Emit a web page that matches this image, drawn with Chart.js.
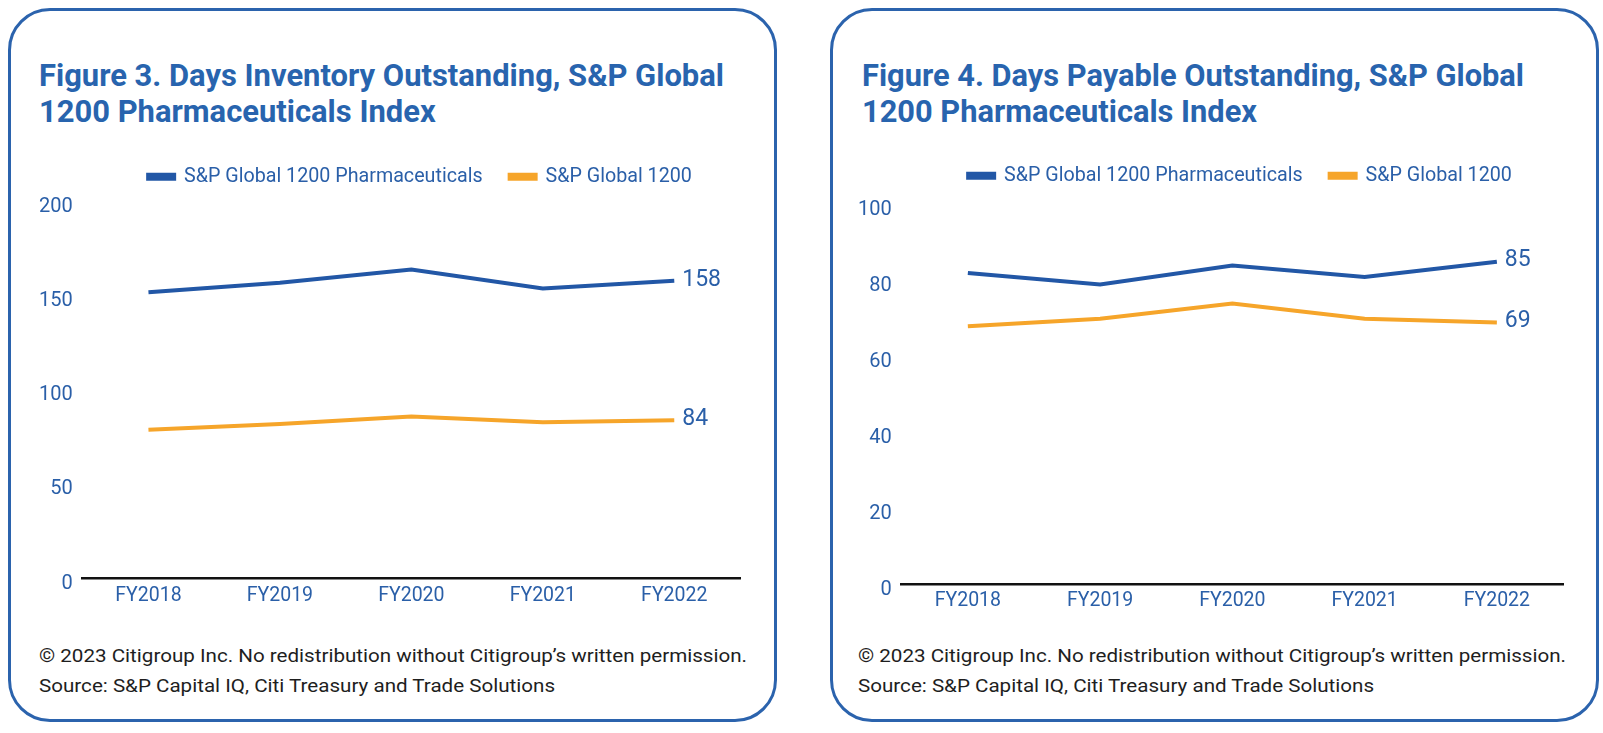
<!DOCTYPE html>
<html>
<head>
<meta charset="utf-8">
<script src="https://cdn.jsdelivr.net/npm/chart.js@4/dist/chart.umd.min.js"></script>
<style>
  body { margin: 0; width: 1603px; height: 733px; background: #fff; position: relative; overflow: hidden; font-family: Roboto, sans-serif; }
  .panel { position: absolute; top: 8px; height: 714px; border: 3px solid #2b63ad; border-radius: 42px; box-sizing: border-box; }
  .ttl { position: absolute; font-weight: 700; font-size: 32px; line-height: 36px; color: #2864ae; white-space: nowrap; transform-origin: 0 0; }
  .foot { position: absolute; font-size: 19px; line-height: 30px; color: #1e1e1e; white-space: nowrap; transform-origin: 0 0; }
  .ttl span, .foot span { display: inline-block; }
  canvas { position: absolute; }
</style>
</head>
<body>
<div class="panel" style="left:8px;width:769px"></div>
<div class="panel" style="left:830px;width:769px"></div>

<div class="ttl" data-w="685" style="left:39px;top:57px"><span>Figure 3. Days Inventory Outstanding, S&amp;P Global</span><br><span>1200 Pharmaceuticals Index</span></div>
<div class="ttl" data-w="662" style="left:862px;top:57px"><span>Figure 4. Days Payable Outstanding, S&amp;P Global</span><br><span>1200 Pharmaceuticals Index</span></div>

<canvas id="dio" width="740" height="477" style="left:20px;top:145px"></canvas>
<canvas id="dpo" width="740" height="475" style="left:848px;top:148px"></canvas>

<div class="foot" data-w="708" style="left:39px;top:641px"><span>© 2023 Citigroup Inc. No redistribution without Citigroup’s written permission.</span><br><span>Source: S&amp;P Capital IQ, Citi Treasury and Trade Solutions</span></div>
<div class="foot" data-w="708" style="left:858px;top:641px"><span>© 2023 Citigroup Inc. No redistribution without Citigroup’s written permission.</span><br><span>Source: S&amp;P Capital IQ, Citi Treasury and Trade Solutions</span></div>

<script>
const years = ['FY2018', 'FY2019', 'FY2020', 'FY2021', 'FY2022'];
const seriesNames = ['S&P Global 1200 Pharmaceuticals', 'S&P Global 1200'];

// Figure 3: days inventory outstanding
const dioPharma = [152, 157, 164, 154, 158];
const dioGlobal = [79, 82, 86, 83, 84];
const dioTicks = [0, 50, 100, 150, 200];

// Figure 4: days payable outstanding
const dpoPharma = [82, 79, 84, 81, 85];
const dpoGlobal = [68, 70, 74, 70, 69];
const dpoTicks = [0, 20, 40, 60, 80, 100];

const blue = '#2257a6';
const orange = '#f6a52a';
const textBlue = '#2a5fa8';

// squeeze the html text to the widths of the original (condensed font)
document.querySelectorAll('.ttl, .foot').forEach(el => {
    const w = el.querySelector('span').getBoundingClientRect().width;
    el.style.transform = 'scaleX(' + (+el.dataset.w / w) + ')';
});

// value of the last point written right of the line end
const endLabels = {
    id: 'endLabels',
    afterDatasetsDraw(chart) {
        const ctx = chart.ctx;
        ctx.save();
        ctx.font = '23px Roboto';
        ctx.fillStyle = textBlue;
        ctx.textAlign = 'left';
        ctx.textBaseline = 'middle';
        chart.data.datasets.forEach((ds, i) => {
            const pts = chart.getDatasetMeta(i).data;
            const p = pts[pts.length - 1];
            ctx.fillText(ds.data[ds.data.length - 1], p.x + 8, p.y - 1);
        });
        ctx.restore();
    }
};

// move the legend so it sits where the original has it
const legendNudge = {
    id: 'legendNudge',
    afterUpdate(chart, args, opts) {
        const lg = chart.legend;
        const w = lg.right - lg.left;
        lg.left = opts.center - w / 2;
        lg.right = opts.center + w / 2;
        lg.top += opts.dy;
        lg.bottom += opts.dy;
    }
};

function makeChart(id, pharma, global, ticks, pad, center, dy, xPad) {
    new Chart(document.getElementById(id), {
        type: 'line',
        data: {
            labels: years,
            datasets: [{
                label: seriesNames[0],
                data: pharma,
                borderColor: blue,
                backgroundColor: blue,
                borderWidth: 4,
                pointRadius: 0,
                tension: 0
            }, {
                label: seriesNames[1],
                data: global,
                borderColor: orange,
                backgroundColor: orange,
                borderWidth: 4,
                pointRadius: 0,
                tension: 0
            }]
        },
        options: {
            responsive: false,
            animation: false,
            layout: { padding: pad },
            plugins: {
                legend: {
                    position: 'top',
                    labels: {
                        boxWidth: 26,
                        boxHeight: 4,
                        padding: 27,
                        color: textBlue,
                        font: { family: 'Roboto', size: 19.7 }
                    }
                },
                legendNudge: { center: center, dy: dy },
                tooltip: { enabled: false }
            },
            scales: {
                x: {
                    offset: true,
                    grid: { display: false, drawTicks: false },
                    border: { display: true, color: '#111', width: 2.5 },
                    ticks: { color: textBlue, padding: xPad, font: { family: 'Roboto', size: 19.5 } }
                },
                y: {
                    min: ticks[0],
                    max: ticks[ticks.length - 1],
                    grid: { display: false, drawTicks: false },
                    border: { display: false },
                    ticks: {
                        stepSize: ticks[1] - ticks[0],
                        color: textBlue,
                        padding: 10,
                        labelOffset: 5,
                        font: { family: 'Roboto', size: 20 }
                    }
                }
            }
        },
        plugins: [endLabels, legendNudge]
    });
}

makeChart('dio', dioPharma, dioGlobal, dioTicks, { left: 9, right: 20, top: 0, bottom: 8 }, 400, -5, 6);
makeChart('dpo', dpoPharma, dpoGlobal, dpoTicks, { left: 0, right: 25, top: 0, bottom: 5 }, 392, -9, 5);
</script>
</body>
</html>
